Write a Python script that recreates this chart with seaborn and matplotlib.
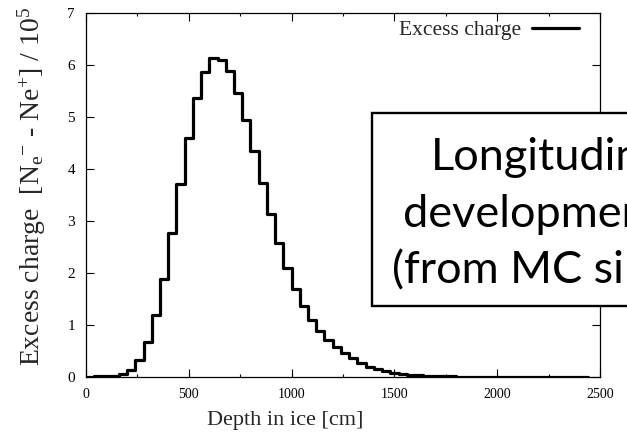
import numpy as np
import pandas as pd
import matplotlib
matplotlib.use("Agg")
import matplotlib.pyplot as plt
from matplotlib.lines import Line2D
from matplotlib.patches import Rectangle
from matplotlib.ticker import MultipleLocator
import seaborn as sns

# Excess charge per 40 cm depth bin, in units of 1e5 particles
bin_width = 40
bin_start = 0
excess_charge = [
    0.005, 0.01, 0.01, 0.02, 0.05, 0.13, 0.33, 0.67, 1.19, 1.88,
    2.76, 3.71, 4.60, 5.37, 5.87, 6.13, 6.10, 5.88, 5.46, 4.94,
    4.35, 3.74, 3.14, 2.58, 2.10, 1.70, 1.37, 1.10, 0.89, 0.72,
    0.58, 0.46, 0.36, 0.27, 0.20, 0.15, 0.11, 0.08, 0.06, 0.045,
    0.035, 0.025, 0.018, 0.013, 0.010, 0.008, 0.007, 0.006, 0.005, 0.004,
    0.004, 0.003, 0.003, 0.002, 0.002, 0.002, 0.001, 0.001, 0.001, 0.001,
    0.001,
]
x_ticks = [0, 500, 1000, 1500, 2000, 2500]
y_ticks = [0, 1, 2, 3, 4, 5, 6, 7]
series_label = "Excess charge"
box_lines = ["Longitudinal", "development", "(from MC simulation)"]

n_bins = len(excess_charge)
bin_end = bin_start + bin_width * n_bins
centers = bin_start + bin_width * (np.arange(n_bins) + 0.5)
df = pd.DataFrame({"depth": centers, "charge": excess_charge})

sns.set_style("ticks")
plt.rcParams["font.family"] = ["Liberation Serif", "DejaVu Serif"]
plt.rcParams["mathtext.fontset"] = "custom"
plt.rcParams["mathtext.rm"] = "Liberation Serif"
plt.rcParams["mathtext.it"] = "Liberation Serif:italic"

fig = plt.figure(figsize=(6.27, 4.36), dpi=100)
W, H = 627, 436
ax = fig.add_axes([86 / W, (H - 377) / H, (600 - 86) / W, (377 - 13) / H])

sns.histplot(data=df, x="depth", weights="charge", binwidth=bin_width,
             binrange=(bin_start, bin_end), element="step", fill=False,
             color="black", linewidth=2.3, ax=ax)

ax.set_xlim(0, 2500)
ax.set_ylim(0, 7)
ax.set_xticks(x_ticks)
ax.set_yticks(y_ticks)
ax.xaxis.set_minor_locator(MultipleLocator(250))
ax.tick_params(which="both", direction="in", top=True, right=True,
               colors="black")
ax.tick_params(which="major", length=5.5, width=0.8)
ax.tick_params(which="minor", length=2.5, width=0.8)
ax.tick_params(axis="x", labelsize=10, pad=8)
ax.tick_params(axis="y", labelsize=11, pad=8)
for s in ax.spines.values():
    s.set_linewidth(0.9)
    s.set_color("black")

ax.set_xlabel("Depth in ice [cm]", fontsize=16)
ax.xaxis.set_label_coords(0.387, -0.093)
ax.set_ylabel(r"Excess charge  [N$_{\mathregular{e}}$$^{\mathregular{-}}$"
              r" - Ne$^{\mathregular{+}}$] / 10$^{\mathregular{5}}$",
              fontsize=20)
ax.yaxis.set_label_coords(-0.074, 0.525)

handle = Line2D([], [], color="black", linewidth=2.3)
ax.legend(handles=[handle], labels=[series_label], loc="upper right",
          bbox_to_anchor=((579 - 86) / 514, (377 - 20) / 364),
          frameon=False, markerfirst=False, handlelength=2.2,
          handletextpad=0.5, borderpad=0, borderaxespad=0,
          prop={"family": "Liberation Serif", "size": 15.5})

# Annotation box overlapping the right side of the plot
fig.add_artist(Rectangle((372 / W, (H - 306) / H), (720 - 372) / W,
                         (306 - 113) / H, transform=fig.transFigure,
                         facecolor="white", edgecolor="black",
                         linewidth=1.7, zorder=10, clip_on=False))
line_pos = [(431, 170), (403, 227), (392, 283)]
for (px, py), txt in zip(line_pos, box_lines):
    fig.text(px / W, (H - py) / H, txt, fontfamily="Lato", fontsize=32.5,
             ha="left", va="baseline", color="black", zorder=11)

fig.savefig("out.png", dpi=100)
